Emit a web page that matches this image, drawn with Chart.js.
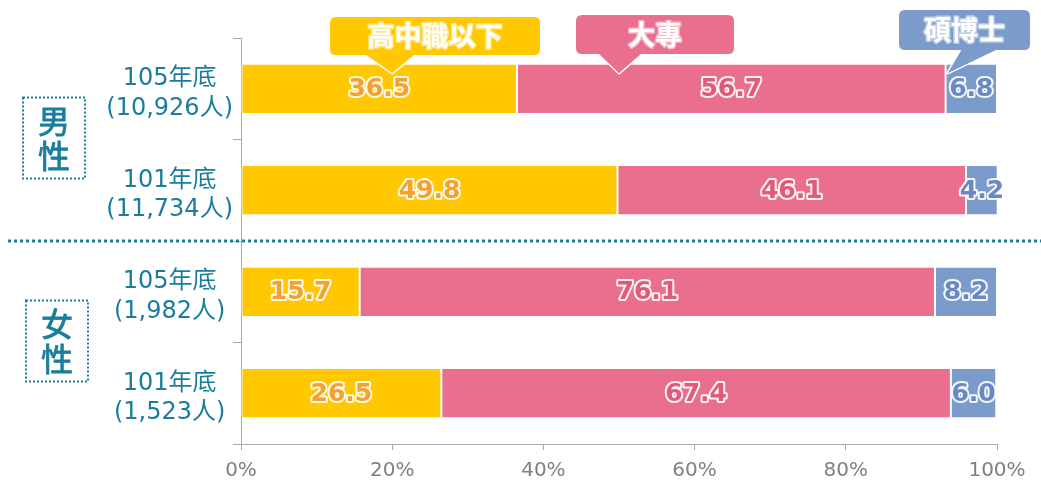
<!DOCTYPE html>
<html>
<head>
<meta charset="utf-8">
<script src="https://cdn.jsdelivr.net/npm/chart.js@4/dist/chart.umd.min.js"></script>
<style>
  html, body { margin: 0; padding: 0; background: #fff; }
  #wrap { width: 1041px; height: 482px; position: relative; }
</style>
</head>
<body>
<div id="wrap"><canvas id="eduChart"></canvas></div>
<script>
const categories = [
  ["105年底", "(10,926人)"],
  ["101年底", "(11,734人)"],
  ["105年底", "(1,982人)"],
  ["101年底", "(1,523人)"],
];
const seriesNames = ["高中職以下", "大專", "碩博士"];
const highSchool = [36.5, 49.8, 15.7, 26.5];
const college = [56.7, 46.1, 76.1, 67.4];
const graduate = [6.8, 4.2, 8.2, 6.0];
const xTicks = [0, 20, 40, 60, 80, 100];
const groups = ["男性", "女性"];

const colors = ["#FFC800", "#EA6E8E", "#7B9BCB"];
const labelColors = ["#F5A030", "#E05A7C", "#6A88C2"];
const teal = "#1A7D9C";
const labelFont = "DejaVu Sans, Noto Sans CJK TC, sans-serif";

// roundRect helper
function rrect(ctx, x, y, w, h, r) {
  ctx.beginPath();
  ctx.moveTo(x + r, y);
  ctx.lineTo(x + w - r, y);
  ctx.quadraticCurveTo(x + w, y, x + w, y + r);
  ctx.lineTo(x + w, y + h - r);
  ctx.quadraticCurveTo(x + w, y + h, x + w - r, y + h);
  ctx.lineTo(x + r, y + h);
  ctx.quadraticCurveTo(x, y + h, x, y + h - r);
  ctx.lineTo(x, y + r);
  ctx.quadraticCurveTo(x, y, x + r, y);
  ctx.closePath();
}

const decorPlugin = {
  id: "decor",
  afterDatasetsDraw(chart) {
    const ctx = chart.ctx;
    const xs = chart.scales.x;
    const ys = chart.scales.y;

    // value labels in the bars
    ctx.save();
    ctx.font = "bold 25px " + labelFont;
    ctx.textAlign = "center";
    ctx.textBaseline = "middle";
    ctx.lineJoin = "round";
    chart.data.datasets.forEach((ds, di) => {
      const meta = chart.getDatasetMeta(di);
      meta.data.forEach((bar, i) => {
        const cx = (bar.x + bar.base) / 2;
        const txt = ds.data[i].toFixed(1);
        ctx.lineWidth = 4;
        ctx.strokeStyle = "rgba(255,255,255,0.9)";
        ctx.strokeText(txt, cx, bar.y + 1);
        ctx.fillStyle = labelColors[di];
        ctx.fillText(txt, cx, bar.y + 1);
      });
    });
    ctx.restore();

    // dotted separator between male / female
    const sepY = (ys.getPixelForValue(1) + ys.getPixelForValue(2)) / 2;
    ctx.save();
    ctx.strokeStyle = teal;
    ctx.lineWidth = 3;
    ctx.setLineDash([3, 3]);
    ctx.beginPath();
    ctx.moveTo(8, sepY);
    ctx.lineTo(chart.width, sepY);
    ctx.stroke();
    ctx.restore();

    // group boxes
    ctx.save();
    ctx.font = "32px Noto Sans CJK TC, sans-serif";
    ctx.textAlign = "center";
    ctx.textBaseline = "middle";
    groups.forEach((g, gi) => {
      const cy = (ys.getPixelForValue(gi * 2) + ys.getPixelForValue(gi * 2 + 1)) / 2 - 2;
      const bx = gi === 0 ? 23 : 26;
      ctx.strokeStyle = teal;
      ctx.lineWidth = 2;
      ctx.setLineDash([2, 2]);
      ctx.strokeRect(bx, cy - 40, 62, 81);
      ctx.setLineDash([]);
      ctx.fillStyle = teal;
      ctx.lineWidth = 0.8;
      ctx.strokeStyle = teal;
      ctx.fillText(g[0], bx + 31, cy - 17);
      ctx.strokeText(g[0], bx + 31, cy - 17);
      ctx.fillText(g[1], bx + 31, cy + 18);
      ctx.strokeText(g[1], bx + 31, cy + 18);
    });
    ctx.restore();

    // legend callouts
    const top = chart.chartArea.top;
    const callouts = [
      { x0: 330, x1: 540, y0: 17, y1: 55, tip: 20, base: [365, 415] },
      { x0: 576, x1: 734, y0: 15, y1: 54, tip: 50, base: [598, 642] },
      { x0: 899, x1: 1030, y0: 10, y1: 50, tip: 93.5, base: [962, 998] },
    ];
    ctx.save();
    callouts.forEach((c, i) => {
      const tipX = xs.getPixelForValue(c.tip);
      const tipY = top + 35;
      ctx.fillStyle = colors[i];
      // pointer
      ctx.beginPath();
      ctx.moveTo(c.base[0], c.y1 - 1);
      ctx.lineTo(tipX, tipY);
      ctx.lineTo(c.base[1], c.y1 - 1);
      ctx.closePath();
      ctx.strokeStyle = "#fff";
      ctx.lineWidth = 3;
      ctx.lineJoin = "round";
      ctx.stroke();
      ctx.fill();
      rrect(ctx, c.x0, c.y0, c.x1 - c.x0, c.y1 - c.y0, 6);
      ctx.fill();
      ctx.beginPath();
      ctx.moveTo(c.base[0] + 1, c.y1 - 1);
      ctx.lineTo(tipX, tipY);
      ctx.lineTo(c.base[1] - 1, c.y1 - 1);
      ctx.closePath();
      ctx.fill();

      ctx.font = "bold 27px Noto Sans CJK TC, sans-serif";
      ctx.textAlign = "center";
      ctx.textBaseline = "middle";
      ctx.lineWidth = 3;
      ctx.strokeStyle = "rgba(255,255,255,0.5)";
      const cx = (c.x0 + c.x1) / 2, cy = (c.y0 + c.y1) / 2;
      ctx.strokeText(seriesNames[i], cx, cy);
      ctx.fillStyle = "#fff";
      ctx.fillText(seriesNames[i], cx, cy);
    });
    ctx.restore();
  },
};

new Chart(document.getElementById("eduChart"), {
  type: "bar",
  data: {
    labels: categories,
    datasets: [
      { label: seriesNames[0], data: highSchool, backgroundColor: colors[0] },
      { label: seriesNames[1], data: college, backgroundColor: colors[1] },
      { label: seriesNames[2], data: graduate, backgroundColor: colors[2] },
    ].map((d) => ({
      ...d,
      borderColor: "#fff",
      borderWidth: { left: 1, right: 1 },
      borderSkipped: false,
      barPercentage: 0.48,
      categoryPercentage: 1,
    })),
  },
  options: {
    indexAxis: "y",
    responsive: true,
    maintainAspectRatio: false,
    animation: false,
    layout: { padding: { left: 104, top: 38, right: 44, bottom: 0 } },
    plugins: {
      legend: { display: false },
      tooltip: { enabled: false },
    },
    scales: {
      x: {
        stacked: true,
        min: 0,
        max: 100,
        afterBuildTicks: (axis) => {
          axis.ticks = xTicks.map((v) => ({ value: v }));
        },
        afterFit: (axis) => {
          axis.height = 38;
        },
        ticks: {
          callback: (v) => v + "%",
          color: "#808080",
          font: { family: labelFont, size: 20 },
          padding: 9,
        },
        grid: { drawOnChartArea: false, tickLength: 6, color: "#aaa" },
        border: { color: "#aaa" },
      },
      y: {
        stacked: true,
        afterFit: (axis) => {
          axis.width = 137;
        },
        ticks: {
          color: teal,
          crossAlign: "center",
          labelOffset: 5,
          font: { family: labelFont, size: 24, lineHeight: 1.22 },
          padding: 0,
        },
        grid: { drawOnChartArea: false, tickLength: 8, color: "#aaa", offset: true },
        border: { color: "#aaa" },
      },
    },
  },
  plugins: [decorPlugin],
});
</script>
</body>
</html>
